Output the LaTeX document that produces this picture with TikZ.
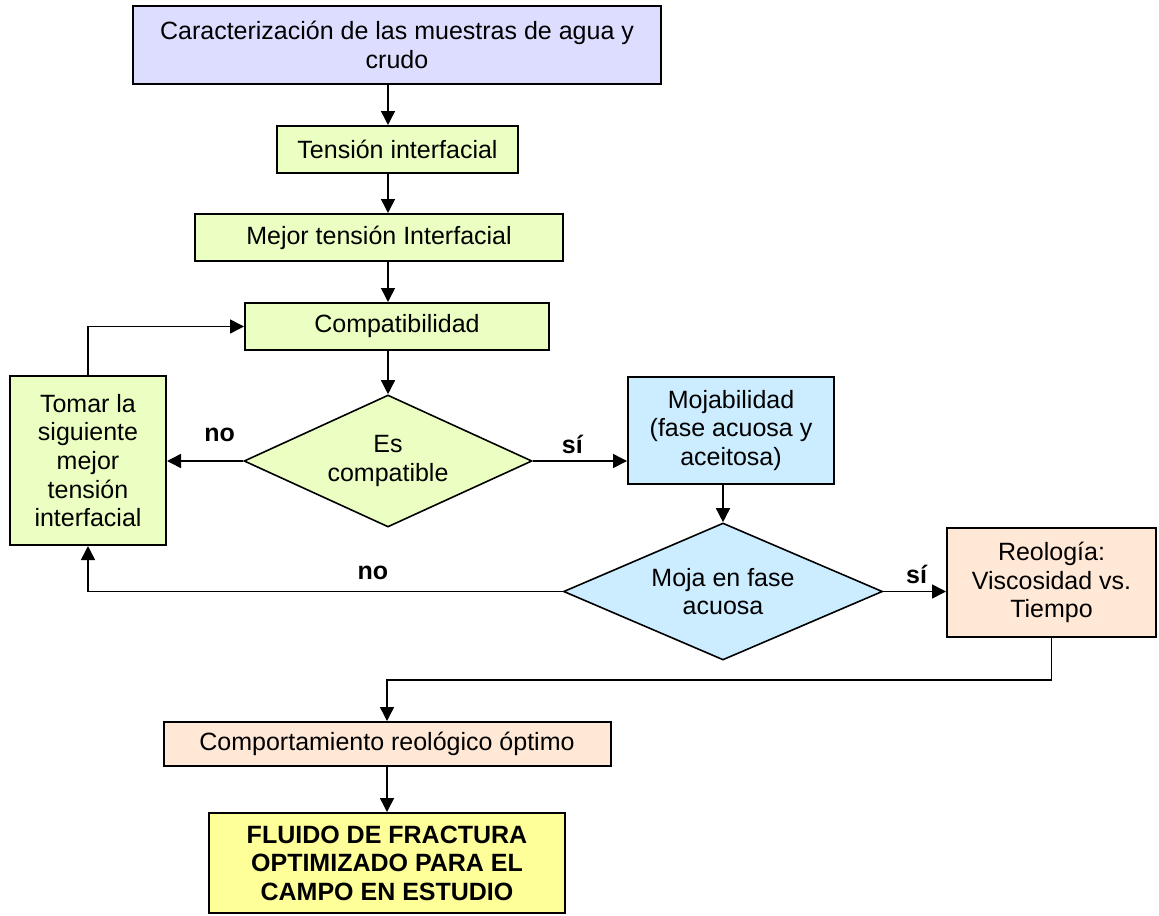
\documentclass[tikz,border=0pt]{standalone}
\usepackage{fontspec}
\setmainfont{Liberation Sans}
\usetikzlibrary{shapes.geometric,arrows.meta}
\definecolor{samplelilac}{RGB}{221,221,255}
\definecolor{tensiongreen}{RGB}{236,255,194}
\definecolor{wetblue}{RGB}{204,236,255}
\definecolor{rheopeach}{RGB}{255,232,214}
\definecolor{fluidyellow}{RGB}{255,255,153}

\begin{document}
\begin{tikzpicture}[x=0.5pt,y=-0.5pt,font=\fontsize{12.5}{14.3}\selectfont,
    >={Triangle[length=7pt,width=7pt]},
    box/.style={draw,line width=1pt,inner sep=0pt,align=center},
    decision/.style={draw,line width=0.8pt,diamond,inner sep=0pt,align=center},
    link/.style={->,line width=0.75pt}]
    \useasboundingbox (0,0) rectangle (1159,915);
    \coordinate (spine) at (388,0);
    \node[box,fill=samplelilac,minimum width=264pt,minimum height=39pt] (muestras) at (397,45)
      {Caracterización de las muestras de agua y\\crudo};
    \node[box,fill=tensiongreen,minimum width=120.5pt,minimum height=23.5pt] (tension) at (397.5,149.5)
      {Tensión interfacial};
    \node[box,fill=tensiongreen,minimum width=184pt,minimum height=23.5pt] (mejor) at (379,237.5)
      {Mejor tensión Interfacial};
    \node[box,fill=tensiongreen,minimum width=152pt,minimum height=23.5pt] (compat) at (397,326.5)
      {Compatibilidad};
    \node[decision,fill=tensiongreen,minimum width=144pt,minimum height=66pt,aspect=2.18] (escomp) at (388,461)
      {Es\\compatible};
    \node[box,fill=tensiongreen,minimum width=78pt,minimum height=84.5pt] (siguiente) at (88,460.5)
      {Tomar la\\siguiente\\mejor\\tensión\\interfacial};
    \node[box,fill=wetblue,minimum width=103pt,minimum height=53.5pt] (mojab) at (731,430.5)
      {Mojabilidad\\(fase acuosa y\\aceitosa)};
    \node[decision,fill=wetblue,minimum width=159.5pt,minimum height=68.5pt,aspect=2.33] (mojafase) at (723,591.5)
      {Moja en fase\\acuosa};
    \node[box,fill=rheopeach,minimum width=104.5pt,minimum height=54.5pt] (reologia) at (1051.5,582.5)
      {Reología:\\Viscosidad vs.\\Tiempo};
    \node[box,fill=rheopeach,minimum width=223.5pt,minimum height=22pt] (comport) at (387,744)
      {Comportamiento reológico óptimo};
    \node[box,fill=fluidyellow,minimum width=178pt,minimum height=50pt,font=\fontsize{12.5}{14.3}\selectfont\bfseries] (fluido) at (387,863)
      {FLUIDO DE FRACTURA\\OPTIMIZADO PARA EL\\CAMPO EN ESTUDIO};
    \coordinate (retorno) at (387,680);

    \draw[link] (muestras.south -| spine)--(tension.north -| spine);
    \draw[link] (tension.south -| spine)--(mejor.north -| spine);
    \draw[link] (mejor.south -| spine)--(compat.north -| spine);
    \draw[link] (compat.south -| spine)--(escomp.north);
    \draw[link] (escomp.west)--node[pos=0.31,above=6pt] {\bfseries no}(escomp.west -| siguiente.east);
    \draw[link] (siguiente.north) |- (compat.west);
    \draw[link] (escomp.east)--node[pos=0.42,above=0pt] {\bfseries sí}(escomp.east -| mojab.west);
    \draw[link] (mojab.south -| mojafase.north)--(mojafase.north);
    \draw[link] (mojafase.west) -| node[pos=0.2,above=2pt] {\bfseries no}(siguiente.south);
    \draw[link] (mojafase.east)--node[pos=0.53,above=0pt] {\bfseries sí}(mojafase.east -| reologia.west);
    \draw[link] (reologia.south) |- (retorno)--(comport.north);
    \draw[link] (comport.south)--(fluido.north);
  \end{tikzpicture}
\end{document}
